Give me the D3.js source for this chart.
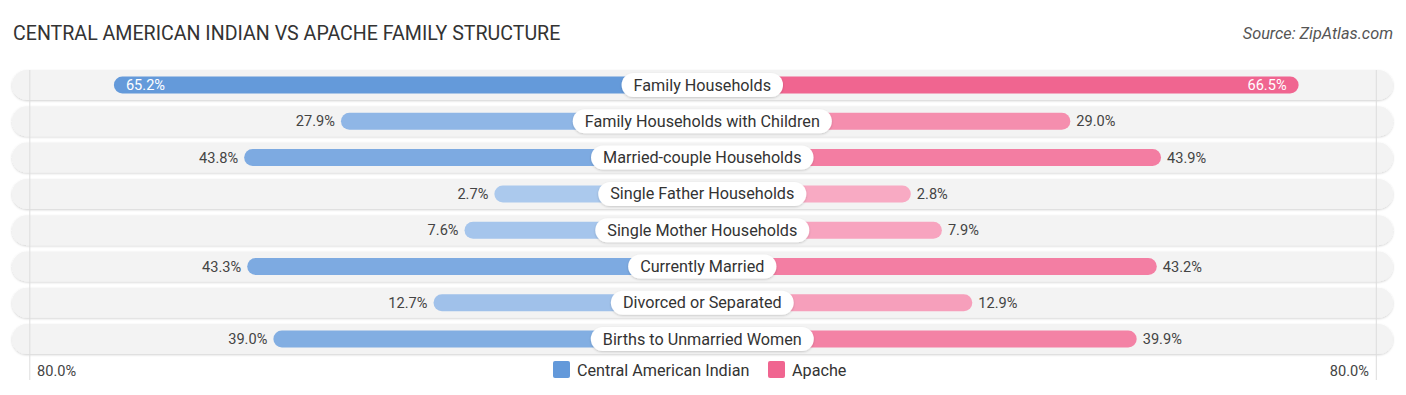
<!DOCTYPE html>
<html>
<head>
<meta charset="utf-8">
<script src="https://cdn.jsdelivr.net/npm/d3@7"></script>
<style>
  body { margin: 0; background: #fff; }
  text { font-family: Roboto, "Open Sans", sans-serif; }
</style>
</head>
<body>
<div id="chart"></div>
<script>
// data
const categories = [
  "Family Households",
  "Family Households with Children",
  "Married-couple Households",
  "Single Father Households",
  "Single Mother Households",
  "Currently Married",
  "Divorced or Separated",
  "Births to Unmarried Women"
];
const centralAmerican = [65.2, 27.9, 43.8, 2.7, 7.6, 43.3, 12.7, 39.0];
const apache = [66.5, 29.0, 43.9, 2.8, 7.9, 43.2, 12.9, 39.9];
const seriesNames = ["Central American Indian", "Apache"];
const axisMax = 80;

const width = 1406, height = 395;
const cx = 702.3;
const rowTop = 85, rowStep = 36.3;

const svg = d3.select("#chart").append("svg")
  .attr("width", width)
  .attr("height", height);

const defs = svg.append("defs");
const f = defs.append("filter").attr("id", "sh").attr("x", "-5%").attr("y", "-30%").attr("width", "110%").attr("height", "160%");
f.append("feDropShadow").attr("dx", 0).attr("dy", 1).attr("stdDeviation", 1).attr("flood-color", "#000").attr("flood-opacity", 0.18);

// bar length from the center
const len = d3.scaleLinear().domain([0, axisMax]).range([191.5, 678.5]);
const blueColor = d3.scaleLinear().domain([0, 66.5]).range(["#aecbee", "#6399da"]);
const pinkColor = d3.scaleLinear().domain([0, 66.5]).range(["#f8adc5", "#f06590"]);
const y = i => rowTop + i * rowStep;

// title & source
svg.append("text").attr("x", 13).attr("y", 40)
  .attr("font-size", 19.6).attr("fill", "#333")
  .text("CENTRAL AMERICAN INDIAN VS APACHE FAMILY STRUCTURE");
svg.append("text").attr("x", 1393).attr("y", 39).attr("text-anchor", "end")
  .attr("font-size", 16.3).attr("font-style", "italic").attr("fill", "#555")
  .text("Source: ZipAtlas.com");

// row backgrounds
svg.selectAll("rect.bg").data(categories).join("rect")
  .attr("class", "bg")
  .attr("x", 12).attr("y", (d, i) => y(i) - 15)
  .attr("width", 1381).attr("height", 30)
  .attr("rx", 15)
  .attr("fill", "#f3f3f3")
  .attr("filter", "url(#sh)");

// faint gridlines
[cx - 672.5, cx + 674].forEach(x => {
  svg.append("line").attr("x1", x).attr("x2", x).attr("y1", 70).attr("y2", 380)
    .attr("stroke", "#ddd").attr("stroke-width", 1);
});

// left bars
svg.selectAll("rect.left").data(centralAmerican).join("rect")
  .attr("class", "left")
  .attr("x", d => cx - len(d)).attr("y", (d, i) => y(i) - 8.5)
  .attr("width", d => len(d)).attr("height", 17).attr("rx", 8.5)
  .attr("fill", d => blueColor(d));

// right bars
svg.selectAll("rect.right").data(apache).join("rect")
  .attr("class", "right")
  .attr("x", cx).attr("y", (d, i) => y(i) - 8.5)
  .attr("width", d => len(d)).attr("height", 17).attr("rx", 8.5)
  .attr("fill", d => pinkColor(d));

// value labels
const inside = v => v > 60;
svg.selectAll("text.lv").data(centralAmerican).join("text")
  .attr("class", "lv")
  .attr("x", d => inside(d) ? cx - len(d) + 12 : cx - len(d) - 6)
  .attr("y", (d, i) => y(i) + 5)
  .attr("text-anchor", d => inside(d) ? "start" : "end")
  .attr("font-size", 14.6)
  .attr("fill", d => inside(d) ? "#fff" : "#444")
  .text(d => d.toFixed(1) + "%");

svg.selectAll("text.rv").data(apache).join("text")
  .attr("class", "rv")
  .attr("x", d => inside(d) ? cx + len(d) - 12 : cx + len(d) + 6)
  .attr("y", (d, i) => y(i) + 5)
  .attr("text-anchor", d => inside(d) ? "end" : "start")
  .attr("font-size", 14.6)
  .attr("fill", d => inside(d) ? "#fff" : "#444")
  .text(d => d.toFixed(1) + "%");

// category labels in white pills
const lab = svg.selectAll("g.cat").data(categories).join("g")
  .attr("class", "cat")
  .attr("transform", (d, i) => `translate(${cx},${y(i)})`);
const labText = lab.append("text")
  .attr("text-anchor", "middle").attr("y", 5.5)
  .attr("font-size", 16.2).attr("fill", "#333")
  .text(d => d);
labText.each(function() {
  const w = this.getComputedTextLength() + 24;
  d3.select(this.parentNode).insert("rect", "text")
    .attr("x", -w / 2).attr("y", -12).attr("width", w).attr("height", 24)
    .attr("rx", 12).attr("fill", "#fff")
    .attr("filter", "url(#sh)");
});

// axis labels
svg.append("text").attr("x", 37).attr("y", 376).attr("font-size", 14.6).attr("fill", "#444")
  .text(axisMax.toFixed(1) + "%");
svg.append("text").attr("x", 1369).attr("y", 376).attr("text-anchor", "end")
  .attr("font-size", 14.6).attr("fill", "#444")
  .text(axisMax.toFixed(1) + "%");

// legend
const legend = svg.append("g");
const items = [
  { name: seriesNames[0], color: "#6399da", x: 553 },
  { name: seriesNames[1], color: "#f06590", x: 768 }
];
items.forEach(it => {
  legend.append("rect").attr("x", it.x).attr("y", 361).attr("width", 17).attr("height", 17)
    .attr("rx", 2).attr("fill", it.color);
  legend.append("text").attr("x", it.x + 24).attr("y", 376)
    .attr("font-size", 16.2).attr("fill", "#333").text(it.name);
});
</script>
</body>
</html>
